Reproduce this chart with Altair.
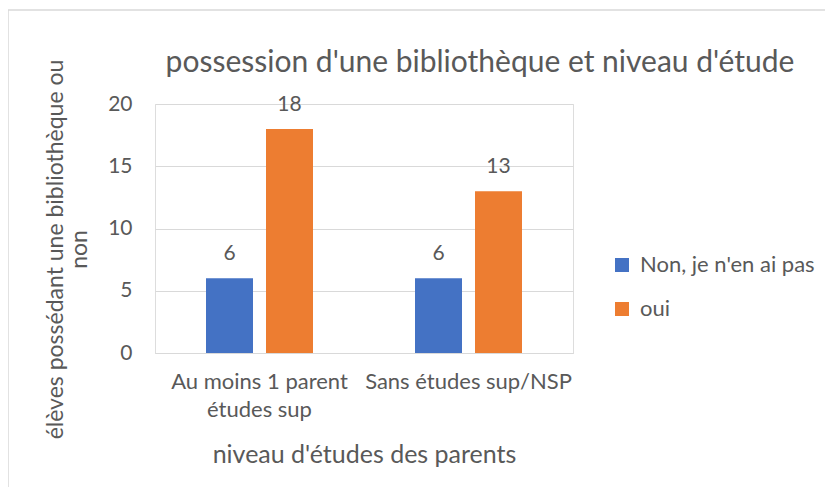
import altair as alt
import pandas as pd

categories = ["Au moins 1 parent études sup", "Sans études sup/NSP"]
series = ["Non, je n'en ai pas", "oui"]
non_values = [6, 6]
oui_values = [18, 13]
y_ticks = [0, 5, 10, 15, 20]
chart_title = "possession d'une bibliothèque et niveau d'étude"

rows = []
for c, n, o in zip(categories, non_values, oui_values):
    rows.append({"cat": c, "serie": series[0], "val": n})
    rows.append({"cat": c, "serie": series[1], "val": o})
df = pd.DataFrame(rows)

FONT = "Lato"
GREY = "#595959"
GRID = "#D9D9D9"

x_enc = alt.X(
    "cat:N",
    sort=categories,
    scale=alt.Scale(paddingInner=0, paddingOuter=0),
    axis=alt.Axis(
        title="niveau d'études des parents",
        labelAngle=0,
        labelFontSize=22,
        labelColor=GREY,
        labelFont=FONT,
        labelPadding=18,
        labelLineHeight=28,
        labelLimit=0,
        labelExpr="datum.label == 'Au moins 1 parent études sup' ? ['Au moins 1 parent', 'études sup'] : datum.label",
        ticks=False,
        domainColor=GRID,
        titleFontSize=25,
        titleFont=FONT,
        titleColor=GREY,
        titleFontWeight="normal",
        titleY=101,
        titleBaseline="middle",
    ),
)
xo_enc = alt.XOffset(
    "serie:N",
    sort=series,
    scale=alt.Scale(paddingInner=0.2167, paddingOuter=0.85),
)

bars = alt.Chart(df).mark_bar().encode(
    x=x_enc,
    xOffset=xo_enc,
    y=alt.Y(
        "val:Q",
        scale=alt.Scale(domain=[0, 20]),
        axis=alt.Axis(
            values=y_ticks,
            title=["élèves possédant une bibliothèque ou", "non"],
            domain=False,
            ticks=False,
            gridColor=GRID,
            labelFontSize=21,
            labelColor=GREY,
            labelFont=FONT,
            labelPadding=23,
            titleFontSize=23,
            titleFont=FONT,
            titleColor=GREY,
            titleFontWeight="normal",
            titleX=-100,
            titleY=145,
            titleAngle=-90,
            titleAlign="center",
            titleBaseline="middle",
            titleLineHeight=24,
            titleLimit=0,
        ),
    ),
    color=alt.Color(
        "serie:N",
        sort=series,
        scale=alt.Scale(domain=series, range=["#4472C4", "#ED7D31"]),
        legend=alt.Legend(
            title=None,
            orient="none",
            legendX=456,
            legendY=150,
            symbolType="square",
            symbolSize=196,
            symbolStrokeWidth=0,
            labelFontSize=22,
            labelFont=FONT,
            labelColor=GREY,
            labelOffset=7,
            labelLimit=0,
            rowPadding=22,
        ),
    ),
)

labels = alt.Chart(df).mark_text(
    baseline="alphabetic", dy=-18, fontSize=21, font=FONT, color=GREY
).encode(
    x=alt.X("cat:N", sort=categories),
    xOffset=alt.XOffset("serie:N", sort=series),
    y="val:Q",
    text="val:Q",
)

frame = alt.Chart(pd.DataFrame({"a": [0]})).mark_rect(
    fill=None, stroke=GRID, strokeWidth=1.5
).encode(
    x=alt.value(-147), x2=alt.value(720), y=alt.value(-94), y2=alt.value(520)
)

title_mark = alt.Chart(pd.DataFrame({"t": [chart_title]})).mark_text(
    fontSize=30, font=FONT, color=GREY, align="center", baseline="middle"
).encode(
    x=alt.value(325), y=alt.value(-41), text="t:N"
)

chart = alt.layer(frame, bars, labels, title_mark).properties(
    width=418,
    height=249,
    autosize=alt.AutoSizeParams(type="none"),
    padding={"left": 147, "top": 96, "right": 252, "bottom": 134},
).configure_view(stroke=None).configure(background="white")

chart.save("out.html", embed_options={"renderer": "svg", "actions": False})
